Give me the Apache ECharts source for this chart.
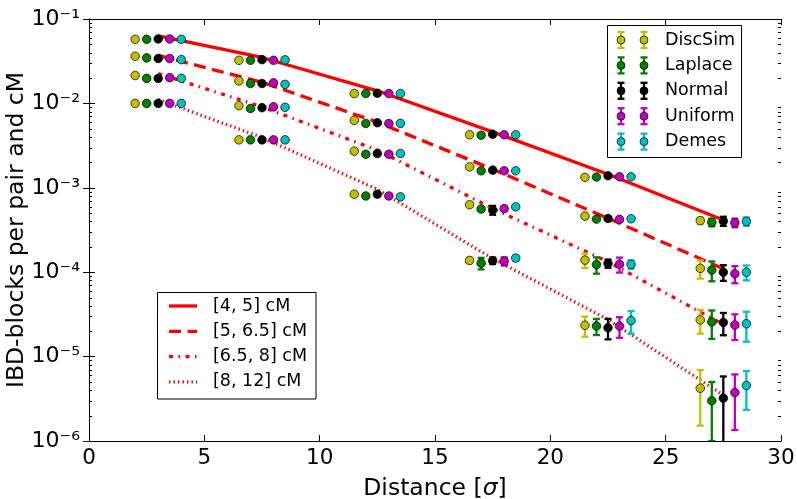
<!DOCTYPE html>
<html><head><meta charset="utf-8">
<script src="https://cdn.jsdelivr.net/npm/echarts@6/dist/echarts.min.js"></script>
<style>html,body{margin:0;padding:0;background:#fff}#c{width:797px;height:499px}</style>
</head><body><div id="c"></div>
<script>
// ---------------- data ----------------
const methods = ['DiscSim', 'Laplace', 'Normal', 'Uniform', 'Demes'];
const methodColors = ['#bfbf00', '#008000', '#000000', '#bf00bf', '#00bfbf'];
const binLabels = ['[4, 5] cM', '[5, 6.5] cM', '[6.5, 8] cM', '[8, 12] cM'];
const yTickLabels = { '-6': '10\u207B\u2076', '-5': '10\u207B\u2075', '-4': '10\u207B\u2074',
                      '-3': '10\u207B\u00B3', '-2': '10\u207B\u00B2', '-1': '10\u207B\u00B9' };
const xTicks = [0, 5, 10, 15, 20, 25, 30];

// x positions of each method's points
const xDiscSim = [2, 6.5, 11.5, 16.5, 21.5, 26.5];
const xLaplace = [2.5, 7, 12, 17, 22, 27];
const xNormal  = [3, 7.5, 12.5, 17.5, 22.5, 27.5];
const xUniform = [3.5, 8, 13, 18, 23, 28];
const xDemes   = [4, 8.5, 13.5, 18.5, 23.5, 28.5];

// values per bin (rows: [4,5], [5,6.5], [6.5,8], [8,12])
const valDiscSim = [
  [0.0575, 0.0324, 0.0131, 0.00425, 0.00133, 0.000408],
  [0.0362, 0.0185, 0.0063, 0.00177, 0.000462, 0.000111],
  [0.0214, 0.0094, 0.00272, 0.00063, 0.000139, 2.72e-5],
  [0.0100, 0.0037, 0.00084, 0.000138, 2.35e-5, 4.22e-6]
];
const valLaplace = [
  [0.0575, 0.0324, 0.0131, 0.0042, 0.00134, 0.00039],
  [0.0346, 0.0172, 0.00578, 0.00159, 0.000426, 0.000106],
  [0.0198, 0.0087, 0.0025, 0.00056, 0.000123, 2.57e-5],
  [0.0100, 0.0037, 0.0008, 0.000128, 2.3e-5, 3.0e-6]
];
const valNormal = [
  [0.0580, 0.0330, 0.0132, 0.00431, 0.00139, 0.000404],
  [0.0340, 0.0172, 0.0059, 0.00162, 0.000433, 0.0001],
  [0.0198, 0.0089, 0.00255, 0.000545, 0.000127, 2.54e-5],
  [0.0100, 0.0037, 0.00084, 0.000137, 2.2e-5, 3.22e-6]
];
const valUniform = [
  [0.0580, 0.0324, 0.0131, 0.00425, 0.00135, 0.000386],
  [0.0340, 0.0175, 0.00578, 0.00159, 0.000423, 9.6e-5],
  [0.0202, 0.0091, 0.0025, 0.000567, 0.000124, 2.37e-5],
  [0.0100, 0.0037, 0.0008, 0.000135, 2.3e-5, 3.75e-6]
];
const valDemes = [
  [0.0575, 0.0328, 0.0131, 0.00425, 0.00135, 0.0004],
  [0.0330, 0.0168, 0.0058, 0.00159, 0.00043, 0.0001],
  [0.0198, 0.0090, 0.00255, 0.000595, 0.000124, 2.45e-5],
  [0.0100, 0.0037, 0.00078, 0.000147, 2.67e-5, 4.54e-6]
];

// standard errors
const errDiscSim = [
  [0.0008, 0.0005, 0.0002, 0.00008, 0.00004, 3.5e-5],
  [0.0006, 0.0003, 0.0001, 0.00004, 0.00002, 2.7e-5],
  [0.0004, 0.0002, 0.00006, 0.00003, 2.7e-5, 8.5e-6],
  [0.0002, 0.00008, 0.00003, 1.0e-5, 6.3e-6, 2.7e-6]
];
const errLaplace = [
  [0.0008, 0.0005, 0.0002, 0.00008, 0.00004, 4.0e-5],
  [0.0006, 0.0003, 0.0001, 0.00004, 0.00002, 2.8e-5],
  [0.0004, 0.0002, 0.00006, 0.00003, 2.7e-5, 9.5e-6],
  [0.0002, 0.00008, 0.00003, 2.0e-5, 5.0e-6, 2.0e-6]
];
const errNormal = [
  [0.0008, 0.0005, 0.0002, 0.00008, 0.00004, 5.0e-5],
  [0.0006, 0.0003, 0.0001, 0.00004, 0.00002, 2.1e-5],
  [0.0004, 0.0002, 0.00006, 6.5e-5, 1.4e-5, 7.5e-6],
  [0.0002, 0.00008, 0.00003, 1.2e-5, 6.0e-6, 2.6e-6]
];
const errUniform = [
  [0.0008, 0.0005, 0.0002, 0.00008, 0.00004, 4.5e-5],
  [0.0006, 0.0003, 0.0001, 0.00004, 0.00002, 2.2e-5],
  [0.0004, 0.0002, 0.00006, 0.00003, 2.5e-5, 8.0e-6],
  [0.0002, 0.00008, 0.00003, 1.5e-5, 6.3e-6, 2.4e-6]
];
const errDemes = [
  [0.0008, 0.0005, 0.0002, 0.00008, 0.00004, 4.5e-5],
  [0.0006, 0.0003, 0.0001, 0.00004, 0.00002, 2.0e-5],
  [0.0004, 0.0002, 0.00006, 0.00003, 1.4e-5, 9.5e-6],
  [0.0002, 0.00008, 0.00003, 1.0e-5, 8.0e-6, 2.2e-6]
];

// theory curves
const xTheory = [3, 7.5, 12.5, 17.5, 22.5, 27.5];
const theory4_5   = [0.063, 0.035, 0.0141, 0.0046, 0.00145, 0.000415];
const theory5_65  = [0.037, 0.0178, 0.0060, 0.00166, 0.000435, 0.00011];
const theory65_8  = [0.0226, 0.0091, 0.0028, 0.00057, 0.000133, 2.4e-5];
const theory8_12  = [0.0111, 0.00395, 0.00096, 0.000145, 2.75e-5, 3.5e-6];

// ---------------- chart ----------------
const FONT = 'DejaVu Sans';
const xs = [xDiscSim, xLaplace, xNormal, xUniform, xDemes];
const vals = [valDiscSim, valLaplace, valNormal, valUniform, valDemes];
const errs = [errDiscSim, errLaplace, errNormal, errUniform, errDemes];
const theories = [theory4_5, theory5_65, theory65_8, theory8_12];
const lineDashes = ['solid', [12, 6.5], [4, 5.5, 1.5, 5.5], [1.4, 3.1]];

const series = [];

theories.forEach((t, i) => {
  series.push({
    type: 'line', name: binLabels[i], data: xTheory.map((x, j) => [x, t[j]]),
    symbol: 'none', z: 2, silent: true, animation: false,
    lineStyle: { color: '#ff0000', width: 3.3, type: lineDashes[i], cap: 'butt' }
  });
});

function errRender(color) {
  return function (params, api) {
    const x = api.value(0), v = api.value(1), e = api.value(2);
    const top = api.coord([x, v + e]);
    const bot = api.coord([x, Math.max(v - e, 1e-9)]);
    const cap = 3.5;
    const st = { stroke: color, lineWidth: 2.3 };
    return {
      type: 'group', children: [
        { type: 'line', shape: { x1: top[0], y1: top[1], x2: bot[0], y2: bot[1] }, style: st },
        { type: 'line', shape: { x1: top[0] - cap, y1: top[1], x2: top[0] + cap, y2: top[1] }, style: st },
        { type: 'line', shape: { x1: bot[0] - cap, y1: bot[1], x2: bot[0] + cap, y2: bot[1] }, style: st }
      ]
    };
  };
}

methods.forEach((m, k) => {
  const pts = [], eb = [];
  vals[k].forEach((row, r) => {
    row.forEach((v, g) => {
      pts.push([xs[k][g], v]);
      eb.push([xs[k][g], v, errs[k][r][g]]);
    });
  });
  series.push({
    type: 'custom', name: m + ' err', data: eb, renderItem: errRender(methodColors[k]),
    encode: { x: 0, y: 1 }, clip: true, z: 3, silent: true, animation: false
  });
  series.push({
    type: 'scatter', name: m, data: pts, symbol: 'circle', symbolSize: 8.6, z: 4,
    silent: true, animation: false,
    itemStyle: { color: methodColors[k], borderColor: '#000', borderWidth: 0.7, opacity: 1 }
  });
});

// minor log ticks (2..9 per decade) on left and right axes
const minorVals = [];
for (let d = -6; d < -1; d++) for (let m = 2; m <= 9; m++) minorVals.push([0, m * Math.pow(10, d)]);
series.push({
  type: 'custom', name: 'minor', data: minorVals, encode: { x: 0, y: 1 }, z: 5, silent: true, animation: false,
  renderItem: function (params, api) {
    const p = api.coord([0, api.value(1)]);
    const cs = params.coordSys;
    const st = { stroke: '#000', lineWidth: 1 };
    return {
      type: 'group', children: [
        { type: 'line', shape: { x1: cs.x, y1: Math.round(p[1]) + 0.5, x2: cs.x + 3, y2: Math.round(p[1]) + 0.5 }, style: st },
        { type: 'line', shape: { x1: cs.x + cs.width - 3, y1: Math.round(p[1]) + 0.5, x2: cs.x + cs.width, y2: Math.round(p[1]) + 0.5 }, style: st }
      ]
    };
  }
});

// legends (graphic)
const graphic = [];
const L1 = { x: 607.5, y: 25.5, w: 134, h: 132, row0: 40, dy: 25.4, m1: 621, m2: 644, tx: 665 };
graphic.push({ type: 'rect', shape: { x: L1.x, y: L1.y, width: L1.w, height: L1.h }, style: { fill: '#fff', stroke: '#000', lineWidth: 1 }, z: 100 });
methods.forEach((m, i) => {
  const y = L1.row0 + i * L1.dy;
  [L1.m1, L1.m2].forEach(mx => {
    const st = { stroke: methodColors[i], lineWidth: 2.3 };
    graphic.push({ type: 'line', shape: { x1: mx, y1: y - 8, x2: mx, y2: y + 8 }, style: st, z: 101 });
    graphic.push({ type: 'line', shape: { x1: mx - 3.5, y1: y - 8, x2: mx + 3.5, y2: y - 8 }, style: st, z: 101 });
    graphic.push({ type: 'line', shape: { x1: mx - 3.5, y1: y + 8, x2: mx + 3.5, y2: y + 8 }, style: st, z: 101 });
    graphic.push({ type: 'circle', shape: { cx: mx, cy: y, r: 4 }, style: { fill: methodColors[i], stroke: '#000', lineWidth: 0.7 }, z: 102 });
  });
  graphic.push({ type: 'text', x: L1.tx, y: y, style: { text: m, font: '17.5px "DejaVu Sans"', fill: '#000', verticalAlign: 'middle', align: 'left' }, z: 102 });
});

const L2 = { x: 157.5, y: 292.5, w: 158.5, h: 106.5, row0: 306, dy: 25.3, lx1: 169, lx2: 197, tx: 213 };
graphic.push({ type: 'rect', shape: { x: L2.x, y: L2.y, width: L2.w, height: L2.h }, style: { fill: '#fff', stroke: '#000', lineWidth: 1 }, z: 100 });
binLabels.forEach((lab, i) => {
  const y = L2.row0 + i * L2.dy;
  const dash = lineDashes[i] === 'solid' ? null : lineDashes[i];
  graphic.push({ type: 'line', shape: { x1: L2.lx1, y1: y, x2: L2.lx2, y2: y }, style: { stroke: '#ff0000', lineWidth: 3.3, lineDash: dash, lineCap: 'butt' }, z: 101 });
  graphic.push({ type: 'text', x: L2.tx, y: y, style: { text: lab, font: '17.5px "DejaVu Sans"', fill: '#000', verticalAlign: 'middle', align: 'left' }, z: 102 });
});

const axisLineStyle = { show: true, lineStyle: { color: '#000', width: 1 } };
const option = {
  backgroundColor: '#fff',
  animation: false,
  textStyle: { fontFamily: FONT },
  grid: { left: 89, right: 16, top: 19, bottom: 58, containLabel: false, outerBoundsMode: 'none' },
  xAxis: [
    {
      type: 'value', min: 0, max: 30, interval: 5, position: 'bottom',
      axisLine: axisLineStyle, splitLine: { show: false },
      axisTick: { show: true, inside: true, length: 6, lineStyle: { color: '#000' } },
      axisLabel: { fontSize: 21.5, color: '#000', margin: 6, fontFamily: FONT,
        formatter: v => xTicks.indexOf(v) >= 0 ? String(v) : '' },
      name: 'Distance [{i|σ}]', nameLocation: 'middle', nameGap: 36, nameMoveOverlap: false,
      nameTextStyle: { fontSize: 23.5, color: '#000', fontFamily: FONT,
        rich: { i: { fontSize: 23.5, fontStyle: 'italic', fontFamily: FONT, color: '#000' } } }
    },
    {
      type: 'value', min: 0, max: 30, interval: 5, position: 'top',
      axisLine: axisLineStyle, splitLine: { show: false },
      axisTick: { show: true, inside: true, length: 6, lineStyle: { color: '#000' } },
      axisLabel: { show: false }
    }
  ],
  yAxis: [
    {
      type: 'log', logBase: 10, min: 1e-6, max: 1e-1, position: 'left',
      axisLine: axisLineStyle, splitLine: { show: false },
      axisTick: { show: true, inside: true, length: 6, lineStyle: { color: '#000' } },
      axisLabel: {
        margin: 9, color: '#000', fontFamily: FONT, fontSize: 22, align: 'right',
        formatter: v => yTickLabels[String(Math.round(Math.log10(v)))] || ''
      },
      name: 'IBD-blocks per pair and cM', nameLocation: 'middle', nameGap: 60, nameMoveOverlap: false,
      nameTextStyle: { fontSize: 23.5, color: '#000', fontFamily: FONT }
    },
    {
      type: 'log', logBase: 10, min: 1e-6, max: 1e-1, position: 'right',
      axisLine: axisLineStyle, splitLine: { show: false },
      axisTick: { show: true, inside: true, length: 6, lineStyle: { color: '#000' } },
      axisLabel: { show: false }
    }
  ],
  graphic: graphic,
  series: series
};
const chart = echarts.init(document.getElementById('c'), null, { renderer: 'canvas' });
chart.setOption(option);
</script></body></html>
